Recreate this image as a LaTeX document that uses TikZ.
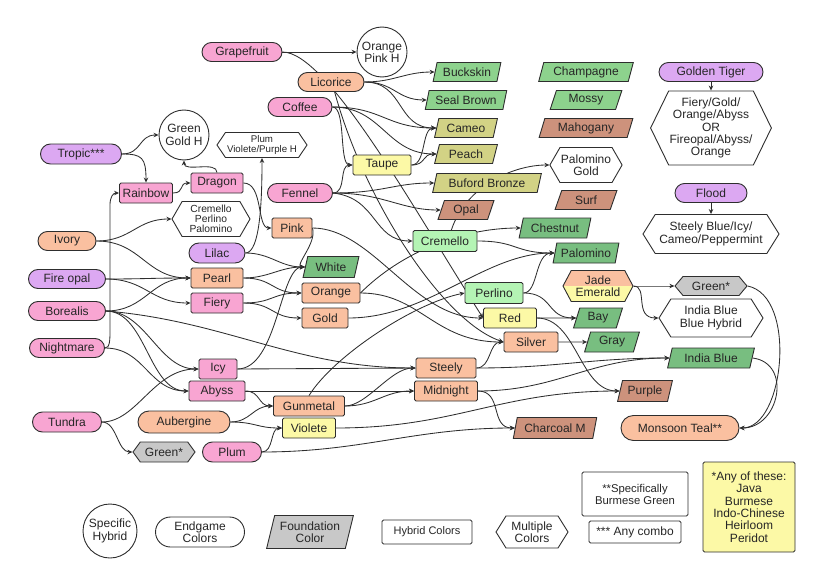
\documentclass[tikz,border=0pt]{standalone}
\usepackage{fontspec}
\setmainfont{Liberation Sans}
\usetikzlibrary{shapes.geometric,shapes.misc,shapes.symbols,arrows.meta,backgrounds}
\definecolor{pinkc}{HTML}{F8A5D2}
\definecolor{purplec}{HTML}{DCA8F2}
\definecolor{orangec}{HTML}{FAC0A0}
\definecolor{yellowc}{HTML}{FCF9A6}
\definecolor{lgreenc}{HTML}{B4F4B4}
\definecolor{greenA}{HTML}{8DD28D}
\definecolor{greenB}{HTML}{78BE80}
\definecolor{olivec}{HTML}{D2D285}
\definecolor{brownc}{HTML}{CD927C}
\definecolor{greyc}{HTML}{C8C8C8}
\definecolor{linec}{HTML}{2E2E2E}
\definecolor{textc}{HTML}{262626}
\tikzset{
 base/.style={draw=linec, line width=0.9pt, text=textc, fill=white, font=\fontsize{12}{12.3}\selectfont, inner sep=1pt, align=center, minimum height=19pt},
 pill/.style={base, rounded rectangle},
 box/.style={base, rectangle, rounded corners=1.5pt, minimum height=20pt},
 para/.style={base, trapezium, trapezium left angle=73, trapezium right angle=107, trapezium stretches=true},
 hexa/.style={base, signal, signal to=west and east, signal from=nowhere},
 circ/.style={base, circle},
 e/.style={draw=linec, line width=0.85pt, -{Stealth[length=5pt,width=4.5pt]}},
}
\begin{document}
\begin{tikzpicture}[x=1pt,y=-1pt]
\useasboundingbox (0,0) rectangle (830,586);
% ---- top
\node[pill,fill=pinkc,minimum width=82pt] (grape) at (242,52) {Grapefruit};
\node[circ,minimum size=50pt] (oph) at (382,52) {Orange\\Pink H};
\node[pill,fill=orangec,minimum width=68pt] (lic) at (331,82) {Licorice};
\node[pill,fill=pinkc,minimum width=66pt] (coffee) at (300,107) {Coffee};
\node[para,fill=greenA,minimum width=68pt] (buck) at (467,72) {Buckskin};
\node[para,fill=greenA,minimum width=82pt] (seal) at (466,100) {Seal Brown};
\node[para,fill=olivec,minimum width=63pt] (cameo) at (466,128) {Cameo};
\node[para,fill=olivec,minimum width=63pt] (peach) at (466,154) {Peach};
\node[para,fill=olivec,minimum width=109pt] (buford) at (487,183) {Buford Bronze};
\node[para,fill=brownc,minimum width=56pt] (opal) at (466,210) {Opal};
\node[para,fill=greenA,minimum width=95pt] (champ) at (586,72) {Champagne};
\node[para,fill=greenA,minimum width=72pt] (mossy) at (586,100) {Mossy};
\node[para,fill=brownc,minimum width=94pt] (mahog) at (586,128) {Mahogany};
\node[hexa,signal pointer angle=120,minimum width=72pt,minimum height=35pt] (palgold) at (586,165) {Palomino\\Gold};
\node[para,fill=brownc,minimum width=62pt] (surf) at (586,200) {Surf};
\node[pill,fill=purplec,minimum width=106pt] (gtiger) at (711,72) {Golden Tiger};
\node[hexa,signal pointer angle=128,minimum width=118pt,minimum height=74pt] (fhex) at (711,128) {Fiery/Gold/\\Orange/Abyss\\OR\\Fireopal/Abyss/\\Orange};
\node[pill,fill=purplec,minimum width=74pt] (flood) at (711,193) {Flood};
\node[hexa,signal pointer angle=116,minimum width=136pt,minimum height=39pt] (shex) at (711,234) {Steely Blue/Icy/\\Cameo/Peppermint};
\node[hexa,fill=greyc,signal pointer angle=100,minimum width=72pt,minimum height=19pt] (greenR) at (711,286) {Green*};
\node[hexa,signal pointer angle=116,minimum width=104pt,minimum height=38pt] (ibh) at (711,318) {India Blue\\Blue Hybrid};
\node[para,fill=greenB,minimum width=87pt,minimum height=20pt] (iblue) at (711,358) {India Blue};
\node[para,fill=brownc,minimum width=55pt,minimum height=21pt] (purple) at (645,391) {Purple};
\node[pill,fill=orangec,minimum width=120pt,minimum height=25pt] (monsoon) at (680,428) {Monsoon Teal**};
\node[hexa,fill=orangec,signal pointer angle=124,minimum width=70pt,minimum height=31pt,
  path picture={\fill[yellowc] (path picture bounding box.west) rectangle (path picture bounding box.south east);}] (jade) at (598,286) {Jade\\Emerald};
\node[para,fill=greenB,minimum width=72pt,minimum height=20pt] (chest) at (555,228) {Chestnut};
\node[para,fill=greenB,minimum width=66pt,minimum height=20pt] (palo) at (586,253) {Palomino};
\node[box,fill=lgreenc,minimum width=64pt,minimum height=21pt] (crem) at (445,241) {Cremello};
\node[box,fill=lgreenc,minimum width=58pt,minimum height=21pt] (perl) at (494,293) {Perlino};
\node[box,fill=yellowc,minimum width=53pt] (red) at (510,318) {Red};
\node[para,fill=greenB,minimum width=49pt,minimum height=20pt] (bay) at (598,318) {Bay};
\node[box,fill=orangec,minimum width=54pt] (silver) at (531,342) {Silver};
\node[para,fill=greenB,minimum width=55pt,minimum height=20pt] (gray) at (612,342) {Gray};
\node[box,fill=orangec,minimum width=60pt] (steely) at (446,368) {Steely};
\node[box,fill=orangec,minimum width=63pt] (midn) at (446,391) {Midnight};
\node[para,fill=brownc,minimum width=84pt,minimum height=21pt] (charc) at (555,428) {Charcoal M};
% ---- left
\node[pill,fill=purplec,minimum width=83pt,minimum height=20pt] (tropic) at (81,154) {Tropic***};
\node[circ,minimum size=50pt] (ggh) at (184,135) {Green\\Gold H};
\node[box,fill=pinkc,minimum width=53pt] (rainbow) at (146,193) {Rainbow};
\node[box,fill=pinkc,minimum width=52pt] (dragon) at (217,183) {Dragon};
\node[hexa,signal pointer angle=112,minimum width=90pt,minimum height=25pt,font=\fontsize{9.7}{10.5}\selectfont] (plumhex) at (262,145) {Plum\\Violete/Purple H};
\node[hexa,signal pointer angle=120,minimum width=78pt,minimum height=35pt,font=\fontsize{10.3}{10}\selectfont] (cpp) at (211,219) {Cremello\\Perlino\\Palomino};
\node[pill,fill=orangec,minimum width=60pt] (ivory) at (67,241) {Ivory};
\node[pill,fill=purplec,minimum width=58pt,minimum height=20pt] (lilac) at (217,253) {Lilac};
\node[box,fill=orangec,minimum width=40pt] (pink) at (292,228) {Pink};
\node[pill,fill=purplec,minimum width=79pt] (fopal) at (67,279) {Fire opal};
\node[box,fill=orangec,minimum width=52pt] (pearl) at (217,278) {Pearl};
\node[box,fill=pinkc,minimum width=52pt] (fiery) at (217,303) {Fiery};
\node[pill,fill=pinkc,minimum width=79pt] (boreal) at (67,311) {Borealis};
\node[pill,fill=pinkc,minimum width=77pt] (night) at (67,348) {Nightmare};
\node[para,fill=greenB,minimum width=56pt,minimum height=21pt] (white) at (331,267) {White};
\node[box,fill=orangec,minimum width=58pt] (orange) at (331,293) {Orange};
\node[box,fill=orangec,minimum width=46pt] (gold) at (325,318) {Gold};
\node[box,fill=pinkc,minimum width=38pt] (icy) at (218,369) {Icy};
\node[box,fill=pinkc,minimum width=56pt] (abyss) at (217,391) {Abyss};
\node[pill,fill=pinkc,minimum width=71pt,minimum height=20pt] (tundra) at (67,422) {Tundra};
\node[pill,fill=orangec,minimum width=94pt,minimum height=22pt] (auberg) at (184,422) {Aubergine};
\node[hexa,fill=greyc,signal pointer angle=108,minimum width=62pt,minimum height=20pt] (greenL) at (164,452) {Green*};
\node[pill,fill=pinkc,minimum width=61pt,minimum height=20pt] (plum) at (232,452) {Plum};
\node[box,fill=orangec,minimum width=71pt] (gunm) at (309,406) {Gunmetal};
\node[box,fill=yellowc,minimum width=53pt] (violete) at (309,428) {Violete};
\node[box,fill=yellowc,minimum width=58pt] (taupe) at (382,165) {Taupe};
\node[pill,fill=pinkc,minimum width=67pt] (fennel) at (300,193) {Fennel};
% ---- legend
\node[circ,minimum size=54pt] (lg1) at (110,531) {Specific\\Hybrid};
\node[pill,minimum width=91pt,minimum height=30pt] (lg2) at (200,532) {Endgame\\Colors};
\node[para,fill=greyc,minimum width=87pt,minimum height=33pt] (lg3) at (310,532) {Foundation\\Color};
\node[box,minimum width=90pt,minimum height=24pt,font=\fontsize{11}{12}\selectfont] (lg4) at (427,532) {Hybrid Colors};
\node[hexa,signal pointer angle=116,minimum width=72pt,minimum height=32pt] (lg5) at (532,532) {Multiple\\Colors};
\node[box,minimum width=106pt,minimum height=44pt,font=\fontsize{11.3}{12}\selectfont] (lg6) at (635,494) {**Specifically\\Burmese Green};
\node[box,minimum width=92pt,minimum height=22pt] (lg7) at (635,532) {*** Any combo};
\node[box,fill=yellowc,minimum width=92pt,minimum height=90pt] (lg8) at (749,507) {*Any of these:\\Java\\Burmese\\Indo-Chinese\\Heirloom\\Peridot};
% ---- connectors
\begin{pgfonlayer}{background}
\draw[e] (grape.east) -- (oph.west);
\draw[e] (grape.east) .. controls +(45,0) and +(-70,-110) .. (red.west);
\draw[e] (lic.-70) .. controls +(30,110) and +(-60,-20) .. (silver.west);
\draw[e] (lic.east) .. controls +(30,0) and +(-30,0) .. (buck.west);
\draw[e] (lic.east) .. controls +(30,0) and +(-30,0) .. (seal.west);
\draw[e] (lic.east) .. controls +(40,0) and +(-40,0) .. (cameo.west);
\draw[e] (coffee.east) .. controls +(50,0) and +(-50,0) .. (cameo.west);
\draw[e] (coffee.east) .. controls +(50,0) and +(-50,0) .. (peach.west);
\draw[e] (coffee.east) .. controls +(14,0) and +(-14,0) .. (taupe.west);
\draw[e] (taupe.east) .. controls +(15,0) and +(-15,0) .. (cameo.west);
\draw[e] (taupe.east) .. controls +(15,0) and +(-15,0) .. (peach.west);
\draw[e] (fennel.east) .. controls +(14,0) and +(-14,0) .. (taupe.west);
\draw[e] (fennel.east) .. controls +(50,0) and +(-40,0) .. (buford.west);
\draw[e] (fennel.east) .. controls +(50,0) and +(-40,0) .. (opal.west);
\draw[e] (fennel.east) .. controls +(45,5) and +(-40,0) .. (crem.west);
\draw[e] (crem.60) .. controls +(15,-45) and +(-35,0) .. (palgold.west);
\draw[e] (orange.east) .. controls +(40,-40) and +(-60,0) .. (chest.west);
\draw[e] (crem.east) .. controls +(40,0) and +(-40,0) .. (palo.west);
\draw[e] (perl.east) .. controls +(15,0) and +(-20,0) .. (palo.west);
\draw[e] (perl.east) .. controls +(30,0) and +(-30,0) .. (bay.west);
\draw[e] (gold.east) .. controls +(80,0) and +(-70,0) .. (palo.west);
\draw[e] (red.east) -- (bay.west);
\draw[e] (red.east) .. controls +(40,0) and +(-40,0) .. (purple.west);
\draw[e] (silver.east) -- (gray.west);
\draw[e] (steely.east) .. controls +(15,0) and +(-15,0) .. (silver.west);
\draw[e] (steely.east) .. controls +(80,0) and +(-80,0) .. (iblue.west);
\draw[e] (midn.east) .. controls +(80,0) and +(-80,0) .. (iblue.west);
\draw[e] (midn.east) .. controls +(25,0) and +(-25,0) .. (charc.west);
\draw[e] (pink.east) .. controls +(60,0) and +(-70,0) .. (red.west);
\draw[e] (orange.east) .. controls +(60,0) and +(-70,0) .. (silver.west);
\draw[e] (pink.east) .. controls +(5,15) and +(-12,0) .. (white.west);
\draw[e] (icy.east) .. controls +(40,0) and +(-25,0) .. (white.west);
\draw[e] (lilac.east) .. controls +(25,0) and +(-25,0) .. (white.west);
\draw[e] (pearl.east) .. controls +(25,0) and +(-25,0) .. (white.west);
\draw[e] (lilac.east) .. controls +(15,0) and +(0,40) .. (plumhex.south);
\draw[e] (pearl.east) .. controls +(30,0) and +(-30,0) .. (orange.west);
\draw[e] (fiery.east) .. controls +(30,0) and +(-30,0) .. (orange.west);
\draw[e] (fiery.east) .. controls +(30,0) and +(-30,0) .. (gold.west);
\draw[e] (dragon.east) .. controls +(20,0) and +(-15,0) .. (pink.west);
\draw[e] (dragon.north) .. controls +(0,-12) and +(0,12) .. (ggh.south);
\draw[e] (rainbow.east) .. controls +(12,0) and +(-12,0) .. (dragon.west);
\draw[e] (tropic.east) .. controls +(20,0) and +(-20,0) .. (ggh.west);
\draw[e] (tropic.east) .. controls +(20,0) and +(0,-25) .. (rainbow.north);
\draw[e] (night.east) .. controls +(5,0) and +(0,10) .. (110,330) -- (110,205) .. controls +(0,-8) and +(-6,0) .. (rainbow.west);
\draw[e] (ivory.east) .. controls +(35,0) and +(-35,0) .. (cpp.west);
\draw[e] (ivory.east) .. controls +(45,0) and +(-45,0) .. (pearl.west);
\draw[e] (fopal.east) .. controls +(40,0) and +(-40,0) .. (pearl.west);
\draw[e] (fopal.east) .. controls +(40,0) and +(-40,0) .. (fiery.west);
\draw[e] (boreal.east) .. controls +(40,0) and +(-40,0) .. (pearl.west);
\draw[e] (boreal.east) .. controls +(120,10) and +(-120,0) .. (steely.west);
\draw[e] (boreal.east) .. controls +(40,0) and +(-40,0) .. (icy.west);
\draw[e] (boreal.east) .. controls +(40,0) and +(-40,0) .. (abyss.west);
\draw[e] (night.east) .. controls +(40,0) and +(-40,0) .. (abyss.west);
\draw[e] (tundra.east) .. controls +(35,0) and +(-45,0) .. (icy.west);
\draw[e] (tundra.east) .. controls +(15,0) and +(-15,0) .. (greenL.west);
\draw[e] (abyss.east) .. controls +(15,0) and +(-15,0) .. (gunm.west);
\draw[e] (abyss.east) -- (midn.west);
\draw[e] (icy.east) -- (steely.west);
\draw[e] (auberg.east) .. controls +(20,0) and +(-20,0) .. (gunm.west);
\draw[e] (auberg.east) .. controls +(25,0) and +(-25,0) .. (violete.west);
\draw[e] (plum.east) .. controls +(12,0) and +(-12,0) .. (violete.west);
\draw[e] (plum.east) .. controls +(100,0) and +(-100,0) .. (charc.west);
\draw[e] (violete.east) .. controls +(120,0) and +(-120,0) .. (purple.west);
\draw[e] (gunm.east) .. controls +(30,0) and +(-30,0) .. (midn.west);
\draw[e] (gunm.east) .. controls +(22,0) and +(-25,0) .. (steely.west);
\draw[e] (gunm.north) .. controls +(25,-40) and +(-50,10) .. (perl.west);
\draw[e] (jade.east) .. controls +(20,0) and +(-20,0) .. (greenR.west);
\draw[e] (jade.east) .. controls +(15,0) and +(-25,0) .. (ibh.west);
\draw[e] (greenR.east) .. controls +(50,10) and +(45,0) .. (monsoon.east);
\draw[e] (iblue.east) .. controls +(40,5) and +(40,0) .. (monsoon.east);
\draw[e] (gtiger.south) -- (fhex.north);
\draw[e] (flood.south) -- (shex.north);
\end{pgfonlayer}
\end{tikzpicture}
\end{document}
